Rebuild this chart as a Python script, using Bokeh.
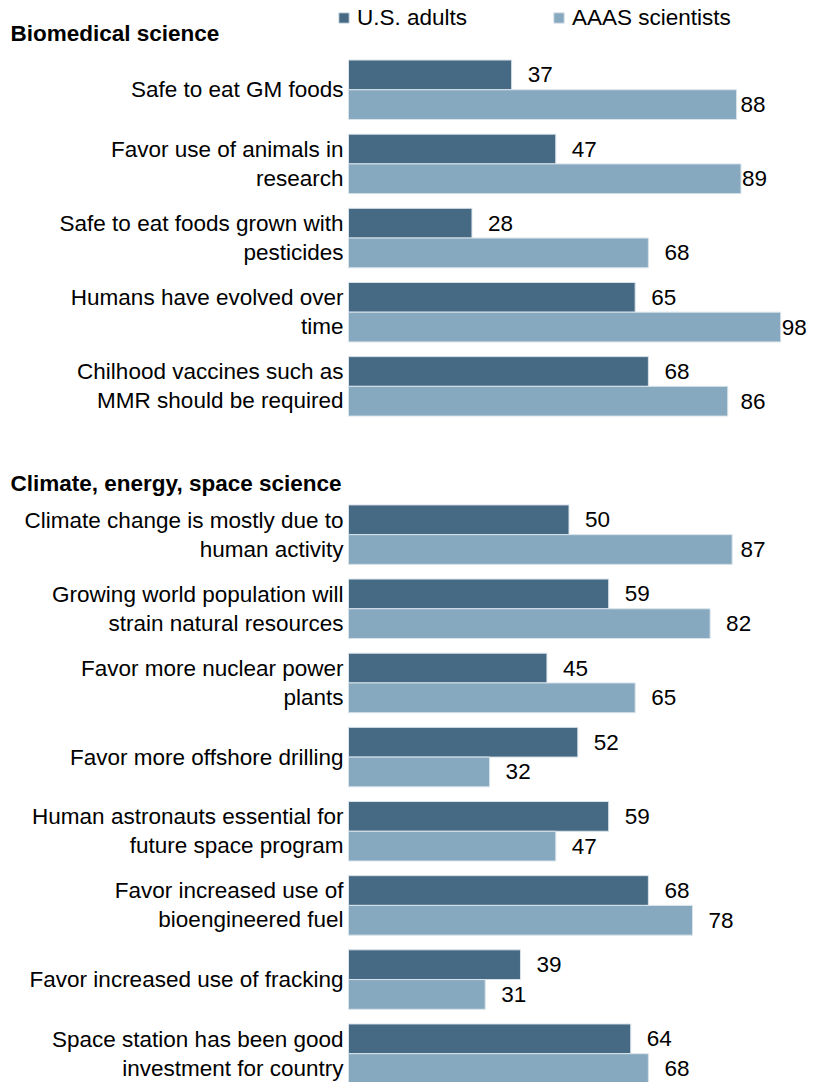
from bokeh.plotting import figure
from bokeh.models import Range1d, ColumnDataSource, Legend, LegendItem
from bokeh.core.properties import value
from bokeh.embed import file_html
from bokeh.resources import INLINE

# ---------------- data ----------------
series = ["U.S. adults", "AAAS scientists"]
sections = ["Biomedical science", "Climate, energy, space science"]

bio_labels = [
    "Safe to eat GM foods",
    "Favor use of animals in\nresearch",
    "Safe to eat foods grown with\npesticides",
    "Humans have evolved over\ntime",
    "Chilhood vaccines such as\nMMR should be required",
]
bio_public = [37, 47, 28, 65, 68]
bio_scientists = [88, 89, 68, 98, 86]

clim_labels = [
    "Climate change is mostly due to\nhuman activity",
    "Growing world population will\nstrain natural resources",
    "Favor more nuclear power\nplants",
    "Favor more offshore drilling",
    "Human astronauts essential for\nfuture space program",
    "Favor increased use of\nbioengineered fuel",
    "Favor increased use of fracking",
    "Space station has been good\ninvestment for country",
]
clim_public = [50, 59, 45, 52, 59, 68, 39, 64]
clim_scientists = [87, 82, 65, 32, 47, 78, 31, 68]

# ---------------- layout ----------------
W, H = 817, 1082
PX = 4.41            # pixels per percentage point
X0 = 348             # pixel position of zero
PITCH = 74.15        # pixels per row slot
FIRST = 89.25        # pixel centre of first slot
BAR = 0.401          # bar height in slot units
DARK = "#476a84"
LIGHT = "#87a9c0"
FONT = value("Liberation Sans")
FS = "22.5px"

labels = bio_labels + clim_labels
public = bio_public + clim_public
scient = bio_scientists + clim_scientists
slots = list(range(len(bio_labels))) + [len(bio_labels) + 1 + i for i in range(len(clim_labels))]
section_slots = [0, len(bio_labels) + 1]
section_offsets = [0.76, 0.69]


def lab_x(v):
    end = v * PX
    return min(end + 16, max(392, end + 1)) / PX


p = figure(width=W, height=H, output_backend="svg", toolbar_location=None,
           x_range=Range1d(-X0 / PX, (W - X0) / PX),
           y_range=Range1d((H - FIRST) / PITCH, -FIRST / PITCH),
           min_border=0, outline_line_color=None)
p.axis.visible = False
p.grid.visible = False
p.background_fill_color = "white"
p.border_fill_color = "white"

src = ColumnDataSource(dict(
    y1=[s - BAR / 2 for s in slots],
    y2=[s + BAR / 2 for s in slots],
    pub=public, sci=scient, lab=labels,
    pub_t=[str(v) for v in public], sci_t=[str(v) for v in scient],
    pub_x=[lab_x(v) for v in public], sci_x=[lab_x(v) for v in scient],
    lab_x=[-5 / PX] * len(labels), ymid=slots,
))

r1 = p.hbar(y="y1", right="pub", left=0, height=BAR, source=src,
            fill_color=DARK, line_color="#d9e3ea", line_width=1)
r2 = p.hbar(y="y2", right="sci", left=0, height=BAR, source=src,
            fill_color=LIGHT, line_color="#d9e3ea", line_width=1)

p.text(x="pub_x", y="y1", text="pub_t", source=src, text_font=FONT,
       text_font_size=FS, text_baseline="middle", text_align="left", text_color="#000000")
p.text(x="sci_x", y="y2", text="sci_t", source=src, text_font=FONT,
       text_font_size=FS, text_baseline="middle", text_align="left", text_color="#000000")
p.text(x="lab_x", y="ymid", text="lab", source=src, text_font=FONT,
       text_font_size=FS, text_baseline="middle", text_align="right",
       text_line_height=1.16, text_color="#000000")

sec_src = ColumnDataSource(dict(
    x=[(10 - X0) / PX] * len(sections),
    y=[s - o for s, o in zip(section_slots, section_offsets)],
    t=sections,
))
p.text(x="x", y="y", text="t", source=sec_src, text_font=FONT,
       text_font_size=FS, text_font_style="bold", text_baseline="middle",
       text_align="left", text_color="#000000")

legend = Legend(items=[LegendItem(label=series[0], renderers=[r1]),
                       LegendItem(label=series[1], renderers=[r2])],
                orientation="horizontal", location=(337, H - 4.5 - 26),
                glyph_width=13, glyph_height=13, label_standoff=7, spacing=85,
                padding=0, margin=0, border_line_color=None,
                background_fill_alpha=0, label_text_font="Liberation Sans",
                label_text_font_size=FS, label_height=26, label_text_color="#000000")
p.add_layout(legend, "center")

open("out.html", "w").write(file_html(p, INLINE))
